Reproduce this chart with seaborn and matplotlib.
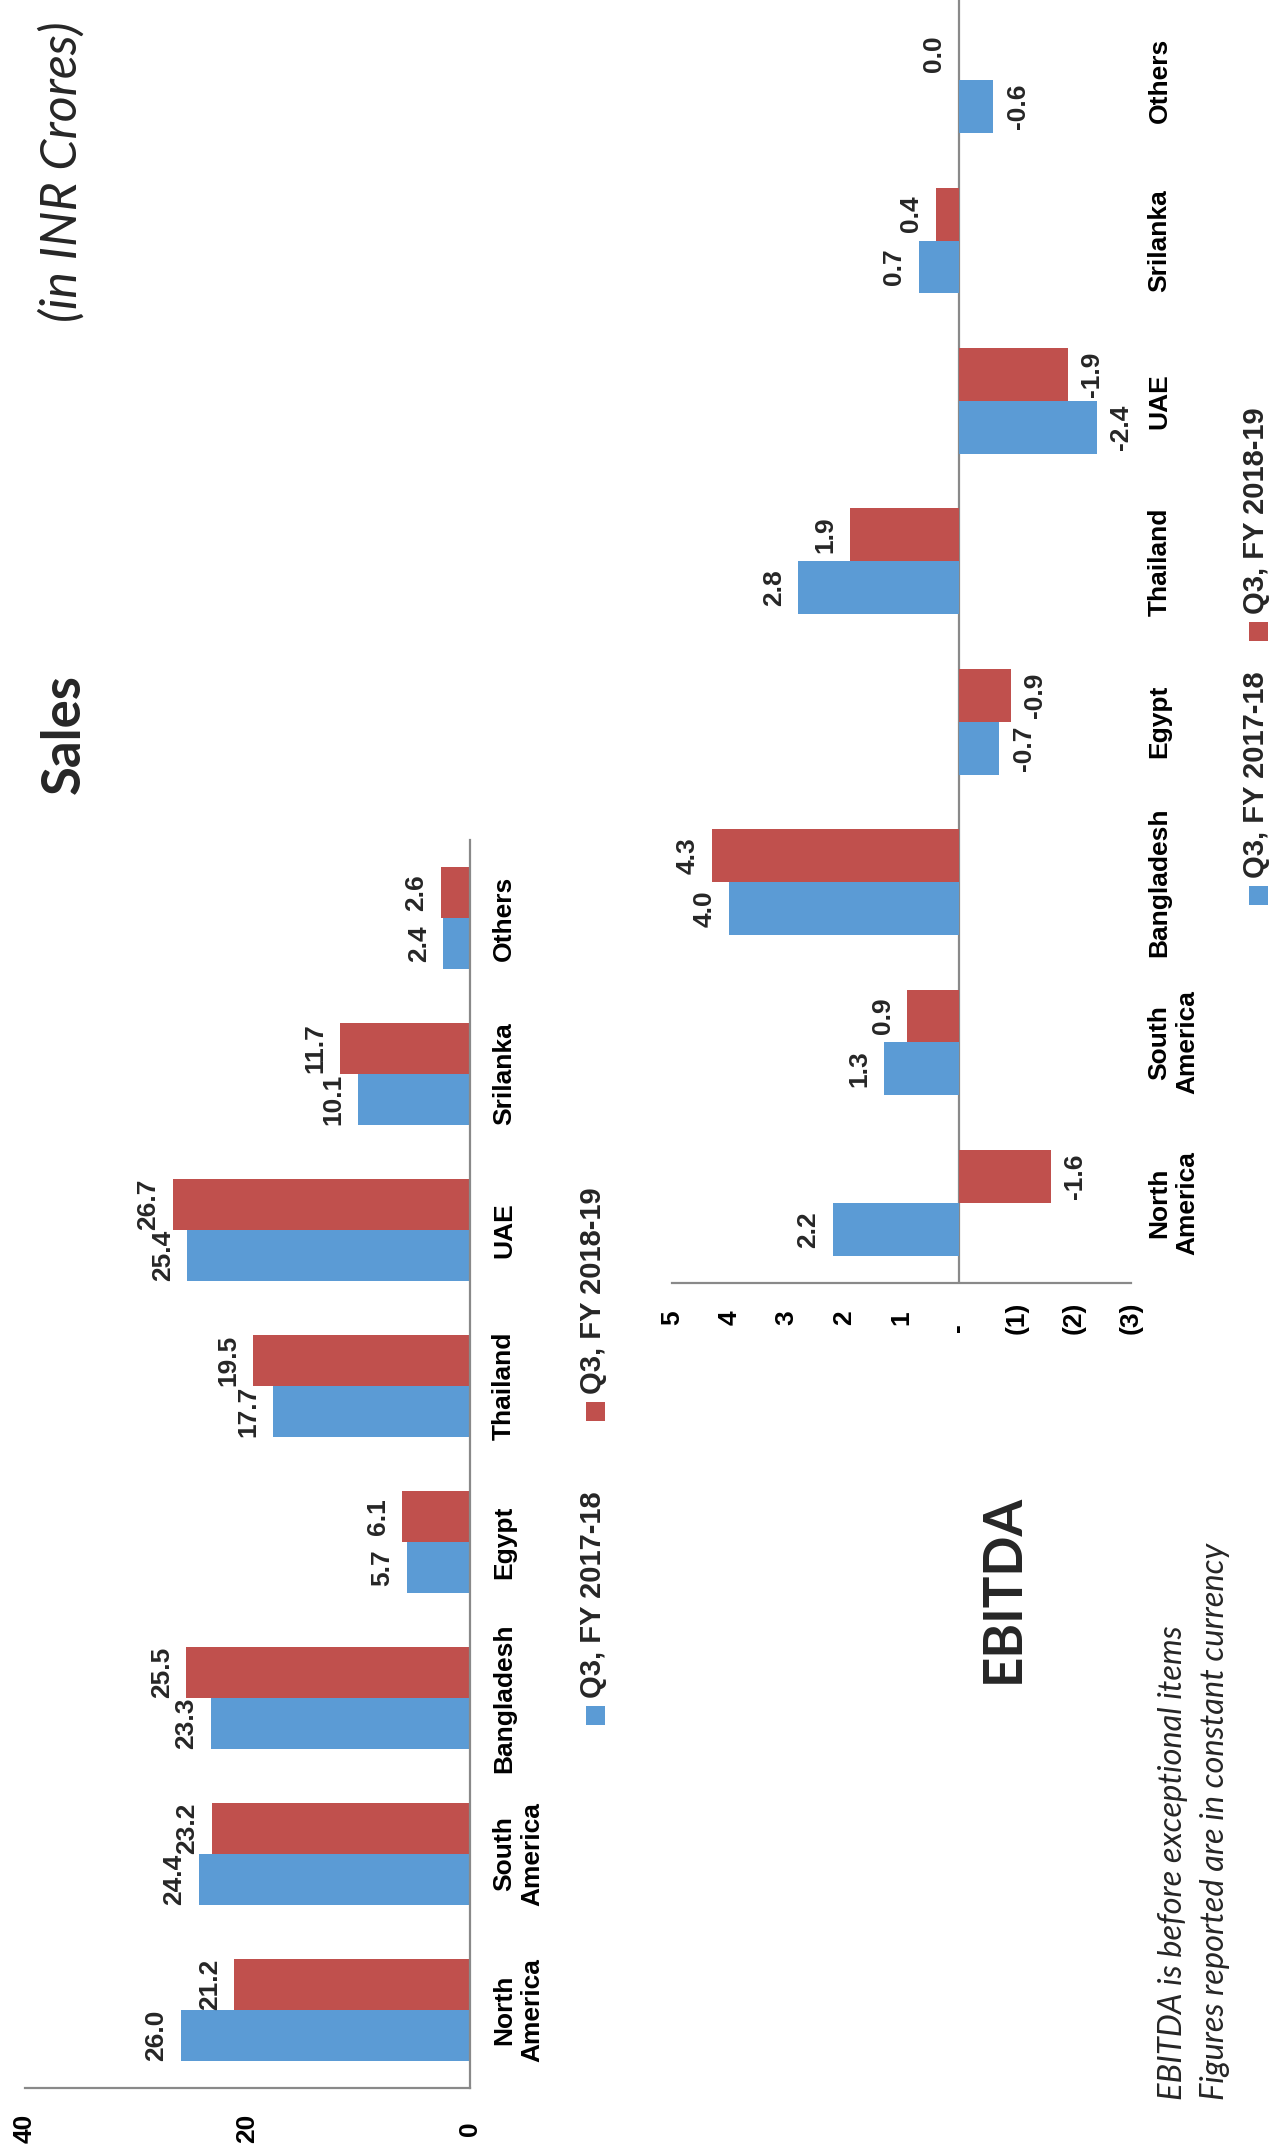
import matplotlib
matplotlib.use("Agg")
import matplotlib.pyplot as plt
import seaborn as sns
import pandas as pd
from matplotlib.patches import Rectangle

# ---- data -------------------------------------------------------------
regions = ["North\nAmerica", "South\nAmerica", "Bangladesh", "Egypt",
           "Thailand", "UAE", "Srilanka", "Others"]
periods = ["Q3, FY 2017-18", "Q3, FY 2018-19"]

sales_fy18 = [26.0, 24.4, 23.3, 5.7, 17.7, 25.4, 10.1, 2.4]
sales_fy19 = [21.2, 23.2, 25.5, 6.1, 19.5, 26.7, 11.7, 2.6]

ebitda_fy18 = [2.2, 1.3, 4.0, -0.7, 2.8, -2.4, 0.7, -0.6]
ebitda_fy19 = [-1.6, 0.9, 4.3, -0.9, 1.9, -1.9, 0.4, 0.0]

sales_ticks = [0, 20, 40]
sales_tick_labels = ["0", "20", "40"]
ebitda_ticks = [-3, -2, -1, 0, 1, 2, 3, 4, 5]
# accounting style: zero shown as a dash padded with trailing spaces
ebitda_tick_labels = ["(3)", "(2)", "(1)", "-   ", "1", "2", "3", "4", "5"]

# ---- style ------------------------------------------------------------
BLUE = "#5B9BD5"
RED = "#C0504D"
GREY = "#898989"
NARROW = ["Liberation Sans Narrow", "Liberation Sans", "DejaVu Sans"]
SOFT = ["Lato", "Open Sans", "DejaVu Sans"]

W, H, DPI = 1275, 2152, 100

sns.set_theme(style="white")
plt.rcParams["font.family"] = NARROW

fig = plt.figure(figsize=(W / DPI, H / DPI), dpi=DPI)


def px_box(x0, y0, x1, y1):
    """Pixel box measured from the top-left corner -> figure fraction rect."""
    return [x0 / W, 1 - y1 / H, (x1 - x0) / W, (y1 - y0) / H]


def fx(x):
    return x / W


def fy(y):
    return 1 - y / H


def long_table(v_a, v_b):
    return pd.DataFrame({
        "region": regions * 2,
        "period": [periods[0]] * len(regions) + [periods[1]] * len(regions),
        "value": v_a + v_b,
    })


def draw_panel(ax, table, xlim, ticks, tick_labels, tick_pad, cat_pad):
    sns.barplot(data=table, x="value", y="region", hue="period",
                order=regions, hue_order=periods, palette=[BLUE, RED],
                width=0.66, saturation=1, errorbar=None, legend=False,
                orient="h", linewidth=0, ax=ax)
    ax.set_xlim(*xlim)
    ax.set_ylim(-0.5, len(regions) - 0.5)
    ax.set_xlabel("")
    ax.set_ylabel("")
    ax.grid(False)
    ax.set_facecolor("none")

    ax.set_xticks(ticks, tick_labels, rotation=90, va="center",
                  fontsize=19, fontweight="bold", family=NARROW)
    ax.yaxis.tick_right()
    ax.set_yticks(range(len(regions)), regions, rotation=90, ha="left",
                  va="center", multialignment="center",
                  fontsize=19, fontweight="bold", family=NARROW)
    ax.tick_params(axis="x", length=0, pad=tick_pad, colors="black")
    ax.tick_params(axis="y", length=0, pad=cat_pad, colors="black")

    # value labels at the end of every bar
    for p in ax.patches:
        v = p.get_width()
        yc = p.get_y() + p.get_height() / 2
        if v >= 0:
            ax.annotate(f"{v:.1f}", xy=(v, yc), xytext=(-9, 0),
                        textcoords="offset points", rotation=90,
                        ha="right", va="center", fontsize=19,
                        fontweight="bold", family=NARROW)
        else:
            ax.annotate(f"{v:.1f}", xy=(v, yc), xytext=(9, 0),
                        textcoords="offset points", rotation=90,
                        ha="left", va="center", fontsize=19,
                        fontweight="bold", family=NARROW)


# ---- Sales panel ------------------------------------------------------
ax_s = fig.add_axes(px_box(25, 840, 470, 2088))
draw_panel(ax_s, long_table(sales_fy18, sales_fy19), (40, 0),
           sales_ticks, sales_tick_labels, tick_pad=29, cat_pad=16)
for side in ["top", "left"]:
    ax_s.spines[side].set_visible(False)
for side in ["right", "bottom"]:
    ax_s.spines[side].set_visible(True)
    ax_s.spines[side].set_color(GREY)
    ax_s.spines[side].set_linewidth(1.6)

# ---- EBITDA panel -----------------------------------------------------
ax_e = fig.add_axes(px_box(672, 0, 1131, 1283))
draw_panel(ax_e, long_table(ebitda_fy18, ebitda_fy19), (5, -3),
           ebitda_ticks, ebitda_tick_labels, tick_pad=25, cat_pad=12)
for side in ["top", "left", "right"]:
    ax_e.spines[side].set_visible(False)
ax_e.spines["bottom"].set_visible(True)
ax_e.spines["bottom"].set_color(GREY)
ax_e.spines["bottom"].set_linewidth(1.6)
ax_e.axvline(0, color=GREY, lw=1.6, zorder=0.5)

# ---- titles and notes -------------------------------------------------
fig.text(fx(64), fy(734), "Sales", rotation=90, ha="center", va="center",
         family=SOFT, fontweight="bold", fontsize=38)
fig.text(fx(62), fy(172), "(in INR Crores)", rotation=90, ha="center",
         va="center", family=SOFT, fontstyle="italic", fontsize=36)
fig.text(fx(1003), fy(1588), "EBITDA", rotation=90, ha="center",
         va="center", family=SOFT, fontweight="bold", fontsize=38)
fig.text(fx(1173), fy(2100), "EBITDA is before exceptional items",
         rotation=90, ha="center", va="bottom", family=SOFT,
         fontstyle="italic", fontsize=23.5)
fig.text(fx(1215), fy(2100), "Figures reported are in constant currency",
         rotation=90, ha="center", va="bottom", family=SOFT,
         fontstyle="italic", fontsize=23.5)


# ---- legends ----------------------------------------------------------
def legend_entry(xc, y_square, label, color):
    s = 19
    fig.add_artist(Rectangle((fx(xc - s / 2), fy(y_square + s / 2)),
                             s / W, s / H, transform=fig.transFigure,
                             facecolor=color, edgecolor="none"))
    fig.text(fx(xc - 2), fy(y_square - s / 2 - 8), label, rotation=90,
             ha="center", va="bottom", fontsize=21, fontweight="bold",
             family=NARROW)


legend_entry(595, 1715, periods[0], BLUE)
legend_entry(595, 1411, periods[1], RED)
legend_entry(1258, 895, periods[0], BLUE)
legend_entry(1258, 631, periods[1], RED)

fig.savefig("out.png", dpi=DPI, facecolor="white")
